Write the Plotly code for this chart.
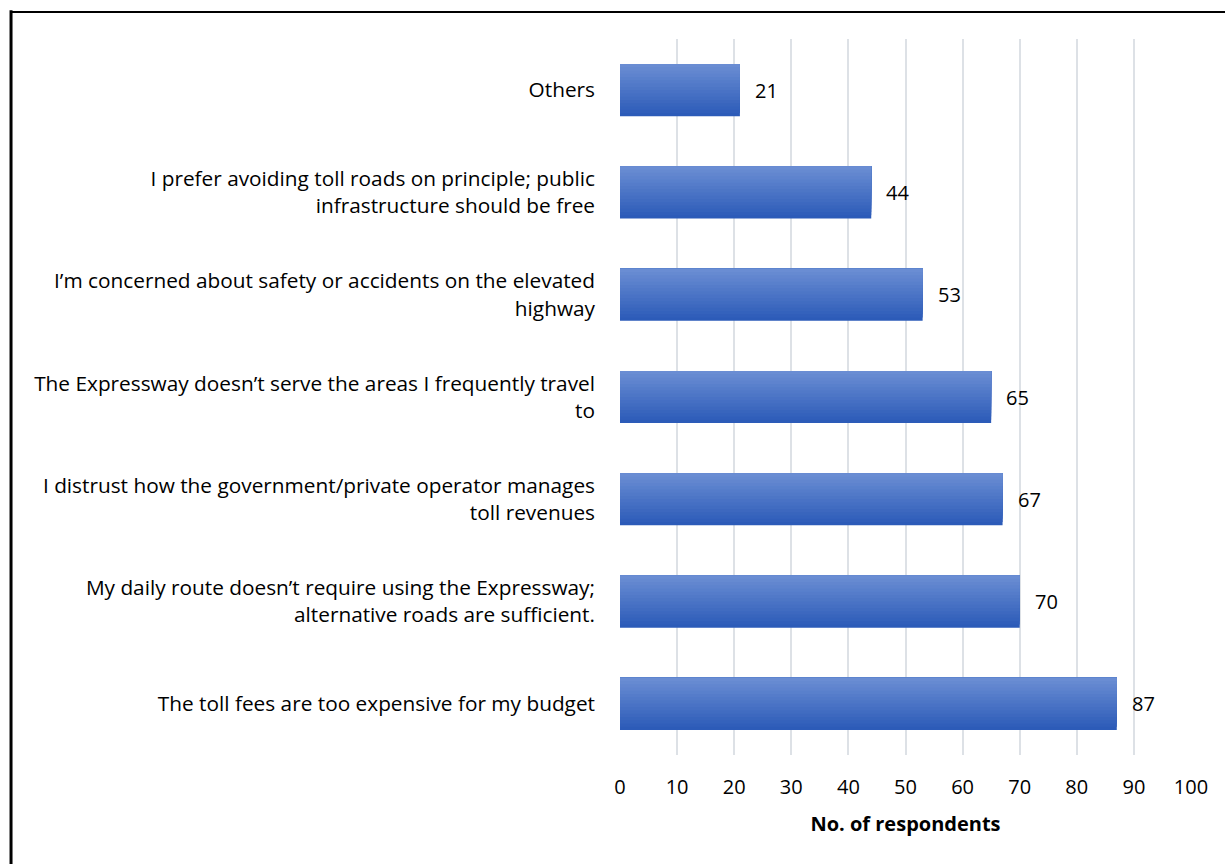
import plotly.graph_objects as go

# Survey responses: reasons for not using the Expressway
categories = [
    "The toll fees are too expensive for my budget",
    "My daily route doesn’t require using the Expressway;<br>alternative roads are sufficient.",
    "I distrust how the government/private operator manages<br>toll revenues",
    "The Expressway doesn’t serve the areas I frequently travel<br>to",
    "I’m concerned about safety or accidents on the elevated<br>highway",
    "I prefer avoiding toll roads on principle; public<br>infrastructure should be free",
    "Others",
]
respondents = [87, 70, 67, 65, 53, 44, 21]
x_ticks = [0, 10, 20, 30, 40, 50, 60, 70, 80, 90, 100]

FONT = "'Open Sans', Lato, sans-serif"
FSIZE = 20.8

# vertical gradient: each layer starts a bit higher and runs to the bar top,
# later (lighter) layers cover the upper part of the earlier ones
top_rgb = (0x6A, 0x8D, 0xD3)
bot_rgb = (0x2C, 0x5B, 0xB8)
n_strips = 16
bar_w = 0.51
strip_w = bar_w / n_strips

fig = go.Figure()
for i in range(n_strips):
    t = i / (n_strips - 1)  # 0 = bottom, 1 = top
    r, g, b = (round(bot_rgb[k] + (top_rgb[k] - bot_rgb[k]) * t) for k in range(3))
    fig.add_trace(go.Bar(
        y=categories,
        x=respondents,
        orientation="h",
        width=bar_w - i * strip_w,
        offset=-bar_w / 2 + i * strip_w,
        marker=dict(color=f"rgb({r},{g},{b})", line=dict(width=0)),
        hoverinfo="skip",
        showlegend=False,
    ))

# value labels next to each bar
for cat, val in zip(categories, respondents):
    fig.add_annotation(
        x=val, y=cat, text=str(val), showarrow=False,
        xanchor="left", xshift=13, yshift=0,
        font=dict(family=FONT, size=20, color="#000000"),
    )

# frame lines along the top and left edges
fig.add_shape(type="line", xref="paper", yref="paper",
              x0=-1.0665, x1=1.07, y0=1.0377, y1=1.0377,
              line=dict(color="#000000", width=2))
fig.add_shape(type="line", xref="paper", yref="paper",
              x0=-1.0665, x1=-1.0665, y0=1.04, y1=-0.2,
              line=dict(color="#000000", width=3))

fig.update_layout(
    width=1225, height=864,
    margin=dict(l=620, r=34, t=39, b=109),
    barmode="overlay",
    paper_bgcolor="white",
    plot_bgcolor="white",
    font=dict(family=FONT, size=FSIZE, color="#000000"),
    xaxis=dict(
        range=[0, 100],
        tickvals=x_ticks,
        showgrid=True,
        gridcolor="#DDE1E6",
        gridwidth=2,
        zeroline=False,
        showline=False,
        ticks="",
        ticklabelstandoff=18,
        tickfont=dict(family=FONT, size=20),
        title=dict(text="<b>No. of respondents</b>", standoff=17,
                   font=dict(family=FONT, size=20)),
        fixedrange=True,
    ),
    yaxis=dict(
        showgrid=False,
        showline=False,
        ticks="",
        ticklabelstandoff=24,
        tickfont=dict(family=FONT, size=FSIZE),
        range=[-0.5, len(categories) - 0.5],
        fixedrange=True,
    ),
)

fig.write_html("out.html")
